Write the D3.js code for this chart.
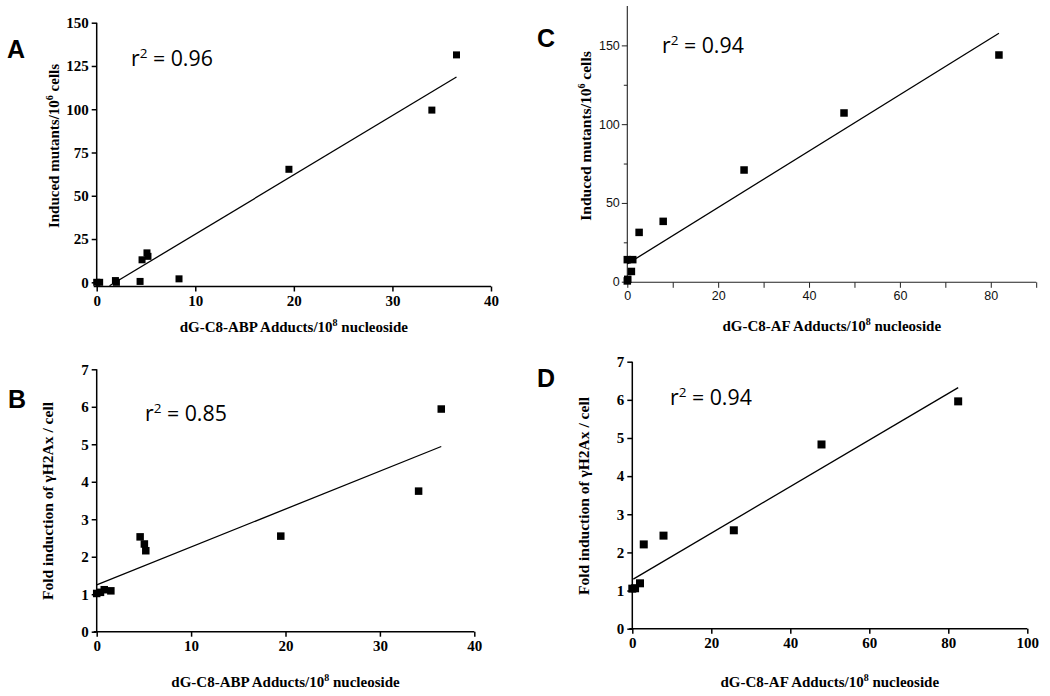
<!DOCTYPE html>
<html><head><meta charset="utf-8">
<script src="https://cdn.jsdelivr.net/npm/d3@7"></script>
<style>body{margin:0;background:#fff}svg{display:block}
.prism .tick text{font-family:"Liberation Serif","Times New Roman",serif !important;font-weight:bold !important;font-size:15px !important;fill:#000}
.orig .tick text{font-family:"Liberation Sans",Arial,sans-serif !important;font-size:12.5px !important;fill:#111}
</style>
</head><body><svg id="c" width="1050" height="696"></svg>
<script>
// ---- Panel A: ABP adducts vs induced mutants
const adductsA = [0, 0.3, 1.9, 2.0, 4.4, 4.6, 5.1, 5.2, 8.35, 19.5, 34.0, 36.5];
const mutantsA = [0, 0, 1, 0, 0.5, 13, 17, 15, 2, 65.3, 99.5, 131.4];
const fitAx = [1.3, 36.5], fitAy = [-2, 118.6];
// ---- Panel B: ABP adducts vs gamma-H2Ax
const adductsB = [0, 0.4, 0.8, 1.5, 4.6, 5.05, 5.2, 19.5, 34.1, 36.5];
const gammaB = [1.02, 1.05, 1.12, 1.09, 2.53, 2.34, 2.16, 2.55, 3.75, 5.94];
const fitBx = [0, 36.5], fitBy = [1.25, 4.94];
// ---- Panel C: AF adducts vs induced mutants
const adductsC = [0, 0.1, 0.9, 0, 1.2, 2.6, 7.9, 25.7, 47.7, 81.8];
const mutantsC = [0.5, 1.5, 6.5, 14, 14, 31.3, 38.3, 70.9, 107.1, 143.9];
const fitCx = [0, 81.8], fitCy = [11.3, 157.7];
// ---- Panel D: AF adducts vs gamma-H2Ax
const adductsD = [0, 0.7, 1.95, 2.9, 7.9, 25.7, 47.9, 82.5];
const gammaD = [1.05, 1.06, 1.19, 2.21, 2.44, 2.58, 4.83, 5.96];
const fitDx = [0.25, 82.5], fitDy = [1.3, 6.32];
// ---- labels / ticks
const panelLetters = ["A", "B", "C", "D"];
const r2Labels = ["0.96", "0.85", "0.94", "0.94"];
const xTitlesBase = ["dG-C8-ABP Adducts/10", "dG-C8-ABP Adducts/10", "dG-C8-AF Adducts/10", "dG-C8-AF Adducts/10"];
const yTitleMut = ["Induced mutants/10", "6", " cells"];
const yTitleGam = "Fold induction of \u03B3H2Ax / cell";
const ticksAy = [0, 25, 50, 75, 100, 125, 150];
const ticksABx = [0, 10, 20, 30, 40];
const ticksBDy = [0, 1, 2, 3, 4, 5, 6, 7];
const ticksCyMajor = [0, 50, 100, 150], ticksCyMinor = [25, 75, 125];
const ticksCxMajor = [0, 20, 40, 60, 80], ticksCxMinor = [10, 30, 50, 70, 90];
const ticksDx = [0, 20, 40, 60, 80, 100];

const svg = d3.select("#c");
const SERIF = "Liberation Serif, Times New Roman, serif";
const SANS = "Liberation Sans, Arial, sans-serif";
const fmt = d3.format("d");

function prismPanel(o) {
  const g = svg.append("g").attr("class", "prism");
  const x = d3.scaleLinear().domain(o.xd).range(o.xr);
  const y = d3.scaleLinear().domain(o.yd).range(o.yr);
  const ya = g.append("g").attr("transform", `translate(${o.xr[0]},0)`)
    .call(d3.axisLeft(y).tickValues(o.yt).tickFormat(fmt).tickSize(5).tickSizeOuter(0).tickPadding(3));
  const xa = g.append("g").attr("transform", `translate(0,${o.xAxisY})`)
    .call(d3.axisBottom(x).tickValues(o.xt).tickFormat(fmt).tickSize(5).tickSizeOuter(0).tickPadding(4));
  [ya, xa].forEach(a => {
    a.select(".domain").remove();
    a.attr("font-family", null).attr("font-size", null);
    a.selectAll(".tick line").attr("stroke", "#000").attr("stroke-width", 1.5);
    a.selectAll(".tick text").attr("font-family", SERIF).attr("font-weight", "bold").attr("font-size", 15);
  });
  g.append("line").attr("x1", o.xr[0]).attr("x2", o.xr[0]).attr("y1", o.yr[1]).attr("y2", o.xAxisY)
    .attr("stroke", "#000").attr("stroke-width", 1.5);
  g.append("line").attr("x1", o.xr[0] - 3).attr("x2", o.xr[1]).attr("y1", o.xAxisY).attr("y2", o.xAxisY)
    .attr("stroke", "#000").attr("stroke-width", 1.5);
  common(g, x, y, o);
}

function originPanel(o) {
  const g = svg.append("g").attr("class", "orig");
  const x = d3.scaleLinear().domain(o.xd).range(o.xr);
  const y = d3.scaleLinear().domain(o.yd).range(o.yr);
  const parts = [];
  parts.push(g.append("g").attr("transform", `translate(${o.xr[0]},0)`)
    .call(d3.axisLeft(y).tickValues(o.ytMajor).tickFormat(fmt).tickSize(5.5).tickSizeOuter(0).tickPadding(2)));
  parts.push(g.append("g").attr("transform", `translate(${o.xr[0]},0)`)
    .call(d3.axisLeft(y).tickValues(o.ytMinor).tickSize(3.5).tickFormat("").tickSizeOuter(0)));
  parts.push(g.append("g").attr("transform", `translate(0,${o.xAxisY})`)
    .call(d3.axisBottom(x).tickValues(o.xtMajor).tickFormat(fmt).tickSize(5.5).tickSizeOuter(0).tickPadding(3)));
  parts.push(g.append("g").attr("transform", `translate(0,${o.xAxisY})`)
    .call(d3.axisBottom(x).tickValues(o.xtMinor).tickSize(5.5).tickFormat("").tickSizeOuter(0)));
  parts.forEach(a => {
    a.select(".domain").remove();
    a.attr("font-family", null).attr("font-size", null);
    a.selectAll(".tick line").attr("stroke", "#222").attr("stroke-width", 1);
    a.selectAll(".tick text").attr("font-family", SANS).attr("font-size", 12.5);
  });
  g.append("line").attr("x1", o.xr[0]).attr("x2", o.xr[0]).attr("y1", y(o.yd[1])).attr("y2", o.xAxisY)
    .attr("stroke", "#222").attr("stroke-width", 1.1);
  g.append("line").attr("x1", o.xr[0]).attr("x2", o.xr[1]).attr("y1", o.xAxisY).attr("y2", o.xAxisY)
    .attr("stroke", "#222").attr("stroke-width", 1.1);
  common(g, x, y, o);
}

function common(g, x, y, o) {
  g.append("line").attr("x1", x(o.fx[0])).attr("y1", y(o.fy[0])).attr("x2", x(o.fx[1])).attr("y2", y(o.fy[1]))
    .attr("stroke", "#000").attr("stroke-width", 1.3);
  const pts = o.px.map((v, i) => [v, o.py[i]]);
  g.selectAll("rect.pt").data(pts).enter().append("rect").attr("class", "pt")
    .attr("x", d => x(d[0]) - o.ms / 2).attr("y", d => y(d[1]) - o.ms / 2)
    .attr("width", o.ms).attr("height", o.ms).attr("fill", "#000");
  g.append("text").attr("x", o.letterPos[0]).attr("y", o.letterPos[1]).text(o.letter)
    .attr("font-family", SANS).attr("font-weight", "bold").attr("font-size", 25);
  const r = g.append("text").attr("x", o.r2Pos[0]).attr("y", o.r2Pos[1])
    .attr("font-family", "Open Sans, sans-serif").attr("font-size", 21.3).attr("fill", "#000");
  r.append("tspan").text("r");
  r.append("tspan").attr("dy", -8.5).attr("font-size", 13.5).text("2");
  r.append("tspan").attr("dy", 8.5).text(" = " + o.r2);
  const xt = g.append("text").attr("x", (o.xr[0] + o.xr[1]) / 2).attr("y", o.xTitleY)
    .attr("text-anchor", "middle").attr("font-family", SERIF).attr("font-weight", "bold").attr("font-size", 15);
  xt.append("tspan").text(o.xTitle);
  xt.append("tspan").attr("dy", -6).attr("font-size", 10).text("8");
  xt.append("tspan").attr("dy", 6).text(" nucleoside");
  const yt = g.append("text").attr("transform", `translate(${o.yTitlePos[0]},${o.yTitlePos[1]}) rotate(-90)`)
    .attr("text-anchor", "middle").attr("font-family", SERIF).attr("font-weight", "bold").attr("font-size", o.yTitleSize);
  if (o.yTitle === "mut") {
    yt.append("tspan").text(yTitleMut[0]);
    yt.append("tspan").attr("dy", -6).attr("font-size", 10).text(yTitleMut[1]);
    yt.append("tspan").attr("dy", 6).text(yTitleMut[2]);
  } else {
    yt.text(yTitleGam);
  }
}

prismPanel({
  xd: [0, 40], xr: [96.7, 491], yd: [0, 150], yr: [282.3, 22.7], xAxisY: 286.5,
  xt: ticksABx, yt: ticksAy, px: adductsA, py: mutantsA, fx: fitAx, fy: fitAy, ms: 7,
  letter: panelLetters[0], letterPos: [7, 58], r2: r2Labels[0], r2Pos: [131, 66],
  xTitle: xTitlesBase[0], xTitleY: 332, yTitle: "mut", yTitleSize: 15, yTitlePos: [59, 146]
});
prismPanel({
  xd: [0, 40], xr: [96.7, 474.3], yd: [0, 7], yr: [631.7, 369.3], xAxisY: 631.7,
  xt: ticksABx, yt: ticksBDy, px: adductsB, py: gammaB, fx: fitBx, fy: fitBy, ms: 7.5,
  letter: panelLetters[1], letterPos: [8, 408], r2: r2Labels[1], r2Pos: [145, 421],
  xTitle: xTitlesBase[1], xTitleY: 687, yTitle: "gam", yTitleSize: 15.5, yTitlePos: [53, 501]
});
originPanel({
  xd: [0, 90], xr: [627.3, 1036.2], yd: [0, 175], yr: [281.7, 6], xAxisY: 282.3,
  xtMajor: ticksCxMajor, xtMinor: ticksCxMinor, ytMajor: ticksCyMajor, ytMinor: ticksCyMinor,
  px: adductsC, py: mutantsC, fx: fitCx, fy: fitCy, ms: 7.5,
  letter: panelLetters[2], letterPos: [537, 47], r2: r2Labels[2], r2Pos: [662, 53],
  xTitle: xTitlesBase[2], xTitleY: 331, yTitle: "mut", yTitleSize: 15.5, yTitlePos: [591, 136]
});
prismPanel({
  xd: [0, 100], xr: [632.3, 1027.3], yd: [0, 7], yr: [628.7, 361.7], xAxisY: 628.7,
  xt: ticksDx, yt: ticksBDy, px: adductsD, py: gammaD, fx: fitDx, fy: fitDy, ms: 8,
  letter: panelLetters[3], letterPos: [537, 387], r2: r2Labels[3], r2Pos: [670, 405],
  xTitle: xTitlesBase[3], xTitleY: 687, yTitle: "gam", yTitleSize: 15.5, yTitlePos: [589, 496]
});
</script></body></html>
